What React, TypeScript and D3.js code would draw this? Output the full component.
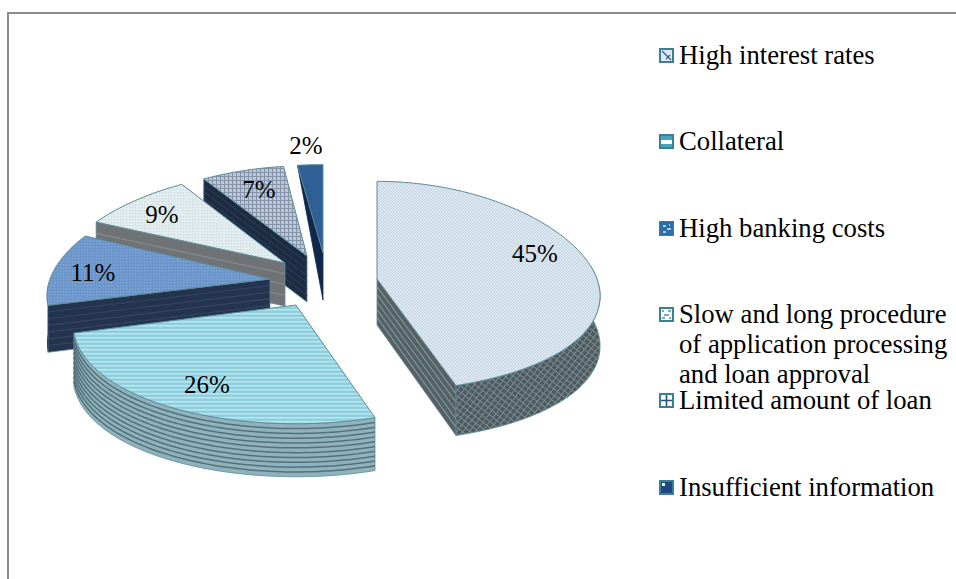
import React from "react";
import * as d3 from "d3";

const categories = ["High interest rates", "Collateral", "High banking costs", "Slow and long procedure of application processing and loan approval", "Limited amount of loan", "Insufficient information"];
const values = [45, 26, 11, 9, 7, 2];
const valueLabels = ["45%", "26%", "11%", "9%", "7%", "2%"];
const legendLines = [["High interest rates"], ["Collateral"], ["High banking costs"], ["Slow and long procedure", "of application processing", "and loan approval"], ["Limited amount of loan"], ["Insufficient information"]];

// Layout: exploded apex and radii of each slice on screen
const apexX = [377, 296, 270, 285, 307, 323];
const apexY = [279, 305, 279, 263, 256, 253];
const radX = [220, 220, 220, 225, 225, 245];
const radY = [105, 111, 104, 99, 97, 95];
const rimDepth = [50, 53, 47, 45, 45, 0];
const apexDepth = [46, 50, 46, 43, 46, 47];
const labelX = [535, 207, 93, 162, 259, 306];
const labelY = [262, 393, 281, 223, 198, 154];
const legendY = [64, 150, 237, 323, 409, 496];
const topFill = ["url(#pTop0)", "url(#pTop1)", "url(#pTop2)", "url(#pTop3)", "url(#pTop4)", "#2f5f95"];
const wallFill = ["#5a5f63", "#8fb3bc", "#24344f", "#6f7375", "#1d2c42", "#10284a"];
const stripeColor = ["#6f9aa3", "#55707a", "#334662", "#858a8b", "#2a3c55", "#163258"];
const stripeCount = [6, 11, 7, 4, 7, 0];
const edge = "#5d8c97";

const arcs = d3.pie<number>().sort(null).value((d) => d)(values);

const px = 0.17;
const py = 0.07;
function pt(i: number, a: number, dy = 0): [number, number] {
  const s = Math.sin(a), c = Math.cos(a);
  return [apexX[i] + radX[i] * s * (1 - px * c), apexY[i] - radY[i] * c * (1 - py * c) + dy];
}
const line = d3.line();
function arcPts(i: number, a0: number, a1: number, dy = 0): [number, number][] {
  const n = Math.max(2, Math.ceil(Math.abs(a1 - a0) * 40));
  return d3.range(n + 1).map((k) => pt(i, a0 + ((a1 - a0) * k) / n, dy));
}
function topPath(i: number) {
  const a = arcs[i];
  return line([[apexX[i], apexY[i]], ...arcPts(i, a.startAngle, a.endAngle)]) + "Z";
}
function curvedWall(i: number, a0: number, a1: number) {
  return line([...arcPts(i, a0, a1), ...arcPts(i, a0, a1, rimDepth[i]).reverse()]) + "Z";
}
function radialCorners(i: number, a: number) {
  const rim = pt(i, a);
  const A: [number, number] = [apexX[i], apexY[i]];
  return { A, rim, A2: [A[0], A[1] + apexDepth[i]] as [number, number], rim2: [rim[0], rim[1] + rimDepth[i]] as [number, number] };
}

function RadialWall({ i, a }: { i: number; a: number }) {
  const { A, rim, A2, rim2 } = radialCorners(i, a);
  const n = stripeCount[i];
  return (
    <g>
      <path d={line([A, rim, rim2, A2]) + "Z"} fill={wallFill[i]} stroke={i === 5 ? wallFill[i] : edge} strokeWidth={0.8} />
      {d3.range(1, n).map((k) => {
        const t = k / n;
        return <line key={k} x1={A[0]} y1={A[1] + apexDepth[i] * t} x2={rim[0]} y2={rim[1] + rimDepth[i] * t} stroke={stripeColor[i]} strokeWidth={1.2} />;
      })}
    </g>
  );
}

function Slice({ i }: { i: number }) {
  const a = arcs[i];
  const n = stripeCount[i];
  return (
    <g>
      {i === 0 && (
        <g>
          <RadialWall i={0} a={a.endAngle} />
          <path d={curvedWall(0, Math.PI * 0.46, a.endAngle)} fill="url(#pWall0)" stroke={edge} strokeWidth={0.8} />
        </g>
      )}
      {i === 1 && (
        <g>
          <path d={curvedWall(1, a.startAngle, a.endAngle)} fill={wallFill[1]} stroke={edge} strokeWidth={0.8} />
          {d3.range(1, n).map((k) => (
            <path key={k} d={line(arcPts(1, a.startAngle, a.endAngle, (rimDepth[1] * k) / n)) as string} fill="none" stroke={stripeColor[1]} strokeWidth={1.5} />
          ))}
        </g>
      )}
      {i >= 2 && <RadialWall i={i} a={a.startAngle} />}
      {i === 2 && <path d={curvedWall(2, a.startAngle, a.startAngle + 0.2)} fill={wallFill[2]} />}
      <path d={topPath(i)} fill={topFill[i]} stroke={edge} strokeWidth={1} strokeLinejoin="round" />
    </g>
  );
}

function Marker({ i, y }: { i: number; y: number }) {
  const x = 659, s = 15;
  const teal = "#3a7f94";
  const blue = "#2f6ea5";
  const inner = [
    <g key="a">
      <rect x={x + 2} y={y + 2} width={s - 4} height={s - 4} fill="#dfe9ef" />
      <path d={`M${x + 3} ${y + 3}L${x + 12} ${y + 12}M${x + 7} ${y + 11}L${x + 11} ${y + 7}`} stroke="#2f5f95" strokeWidth={1.3} />
    </g>,
    <g key="b">
      <rect x={x + 2} y={y + 2} width={s - 4} height={s - 4} fill="#4aa3bd" />
      <rect x={x + 2} y={y + 6} width={s - 4} height={4} fill="#ffffff" />
    </g>,
    <g key="c">
      <rect x={x + 1} y={y + 1} width={s - 2} height={s - 2} fill={blue} />
      <path d={`M${x + 4} ${y + 5}h3M${x + 8} ${y + 8}h4M${x + 4} ${y + 11}h3M${x + 10} ${y + 4}h1`} stroke="#dfeaf3" strokeWidth={1.4} />
    </g>,
    <g key="d">
      <rect x={x + 2} y={y + 2} width={s - 4} height={s - 4} fill="#ffffff" />
      <path d={`M${x + 3} ${y + 4}h2M${x + 9} ${y + 4}h3M${x + 5} ${y + 8}h5M${x + 3} ${y + 11}h3M${x + 10} ${y + 11}h2`} stroke="#4f8fa8" strokeWidth={1.6} />
    </g>,
    <g key="e">
      <rect x={x + 2} y={y + 2} width={s - 4} height={s - 4} fill="#ffffff" />
      <path d={`M${x + 7.5} ${y + 2}v11M${x + 2} ${y + 7.5}h11`} stroke="#28507f" strokeWidth={1.6} />
    </g>,
    <g key="f">
      <rect x={x + 2} y={y + 2} width={s - 4} height={s - 4} fill="#1f4680" />
      <rect x={x + 3} y={y + 3} width={3} height={3} fill="#e8eef5" />
    </g>,
  ][i];
  return (
    <g aria-label={categories[i]}>
      <rect x={x + 1} y={y + 1} width={s - 2} height={s - 2} fill="#ffffff" stroke={teal} strokeWidth={2} />
      {inner}
    </g>
  );
}

export default function App() {
  const order = [5, 4, 3, 2, 0, 1];
  const font = "'Liberation Serif', 'Times New Roman', serif";
  return (
    <svg width={956} height={579} style={{ position: "absolute", left: 0, top: 0, display: "block" }} fontFamily={font}>
      <defs>
        <pattern id="pTop0" width={3} height={3} patternUnits="userSpaceOnUse">
          <rect width={3} height={3} fill="#c3d5e4" />
          <rect width={1.5} height={1.5} fill="#e6eef4" />
          <rect x={1.5} y={1.5} width={1.5} height={1.5} fill="#e6eef4" />
        </pattern>
        <pattern id="pTop1" width={4} height={4} patternUnits="userSpaceOnUse">
          <rect width={4} height={4} fill="#8fcfdd" />
          <rect y={1} width={4} height={1.5} fill="#bfe5ec" />
        </pattern>
        <pattern id="pTop2" width={3} height={3} patternUnits="userSpaceOnUse">
          <rect width={3} height={3} fill="#6a95cb" />
          <rect width={1.5} height={1.5} fill="#7fa6d6" />
        </pattern>
        <pattern id="pTop3" width={3} height={3} patternUnits="userSpaceOnUse">
          <rect width={3} height={3} fill="#e3ecef" />
          <rect width={1.2} height={1.2} fill="#c9d9de" />
        </pattern>
        <pattern id="pTop4" width={4} height={4} patternUnits="userSpaceOnUse">
          <rect width={4} height={4} fill="#bdc7d4" />
          <path d="M0 .5H4M.5 0V4" stroke="#8593aa" strokeWidth={1} />
        </pattern>
        <pattern id="pWall0" width={5} height={5} patternUnits="userSpaceOnUse" patternTransform="rotate(38)">
          <rect width={5} height={5} fill="#54585c" />
          <path d="M0 .5H5M.5 0V5" stroke="#6f8f96" strokeWidth={1} />
        </pattern>
      </defs>
      <path d="M956 13H8V579" fill="none" stroke="#8c8c8c" strokeWidth={2} />
      {order.map((i) => (
        <Slice key={i} i={i} />
      ))}
      {valueLabels.map((t, i) => (
        <text key={t} x={labelX[i]} y={labelY[i]} textAnchor="middle" fontSize={25} fill="#000">
          {t}
        </text>
      ))}
      {legendLines.map((lines, i) => (
        <g key={i}>
          <Marker i={i} y={legendY[i] - 16} />
          {lines.map((l, k) => (
            <text key={k} x={679} y={legendY[i] + k * 30} fontSize={26.7} fill="#000">
              {l}
            </text>
          ))}
        </g>
      ))}
    </svg>
  );
}
